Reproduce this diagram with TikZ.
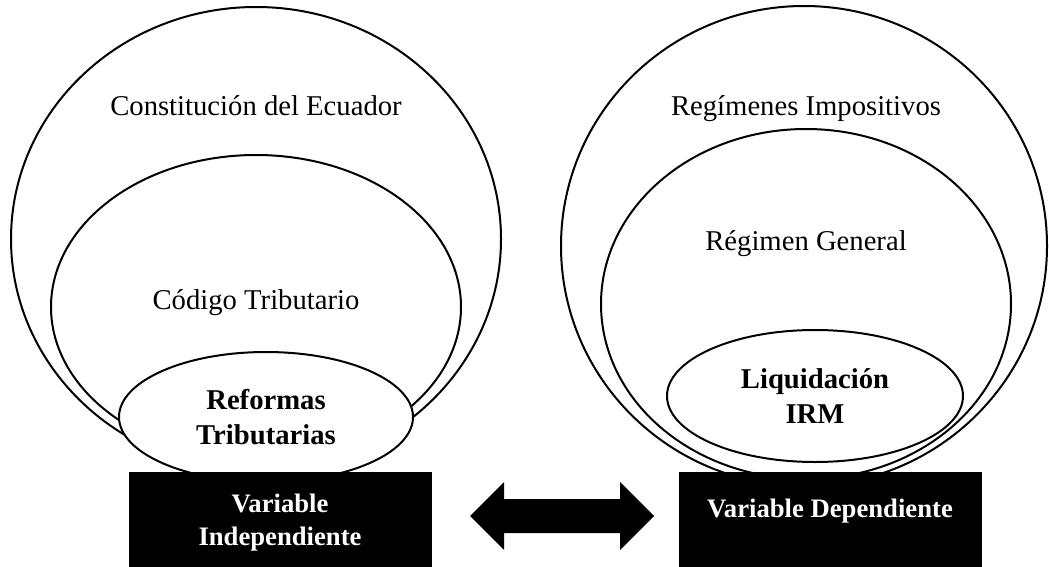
\documentclass[tikz,border=0pt]{standalone}
\usepackage{fontspec}
\setmainfont{Liberation Serif}
\usetikzlibrary{shapes.geometric}

\newlength\px
\setlength\px{0.75pt}

\tikzset{
	ring/.style={ellipse, draw, line width=1.5pt, inner sep=0pt},
	core/.style={ring, fill=white, align=center,
		font=\bfseries\fontsize{21.5}{26}\selectfont},
	ringtext/.style={anchor=base, font=\fontsize{21.5}{26}\selectfont},
	varbox/.style={rectangle, fill=black, inner sep=0pt,
		minimum width=303\px, minimum height=100\px},
	vartext/.style={text=white, align=center,
		font=\bfseries\fontsize{20}{24.75}\selectfont}
}

\begin{document}
\begin{tikzpicture}[x=0.75pt, y=-0.75pt]

		\useasboundingbox (0,0) rectangle (1049,567);

		% variable independiente
		\node[ring, minimum width=490\px, minimum height=464\px] (constitucion) at (256,239) {};

		\node[ring, minimum width=410\px, minimum height=304\px] (codigo) at (256,307) {};

		\node[core, minimum width=294\px, minimum height=130\px] (reformas) at (266,417)%
		{Reformas\\Tributarias};

		\node[ringtext] (tconstitucion) at (256,115) {Constitución del Ecuador};

		\node[ringtext] (tcodigo) at (256,309) {Código Tributario};

		% variable dependiente
		\node[ring, minimum width=486\px, minimum height=480\px] (regimenes) at (804,246) {};

		\node[ring, minimum width=410\px, minimum height=350\px] (general) at (806,304) {};

		\node[core, minimum width=296\px, minimum height=132\px] (liquidacion) at (815,396)%
		{Liquidación\\IRM};

		\node[ringtext] (tregimenes) at (806,115) {Regímenes Impositivos};

		\node[ringtext] (tgeneral) at (806,250) {Régimen General};

		% cajas
		\node[varbox, anchor=north] (vi) at (280,472) {};
		\node[vartext] (tvi) at (vi.center) {Variable\\Independiente};

		\node[varbox, anchor=north] (vd) at (830,472) {};
		\node[vartext, anchor=base] (tvd) at ([yshift=-45\px]vd.north) {Variable Dependiente};

		% flecha doble
		\coordinate (link) at (562,516);
		\begin{scope}[shift={(link)}]
			\fill (-92,0) -- (-58,-34) -- (-58,-17) -- (58,-17) -- (58,-34) -- (92,0)%
			-- (58,34) -- (58,17) -- (-58,17) -- (-58,34) -- cycle;
		\end{scope}
	\end{tikzpicture}
\end{document}
